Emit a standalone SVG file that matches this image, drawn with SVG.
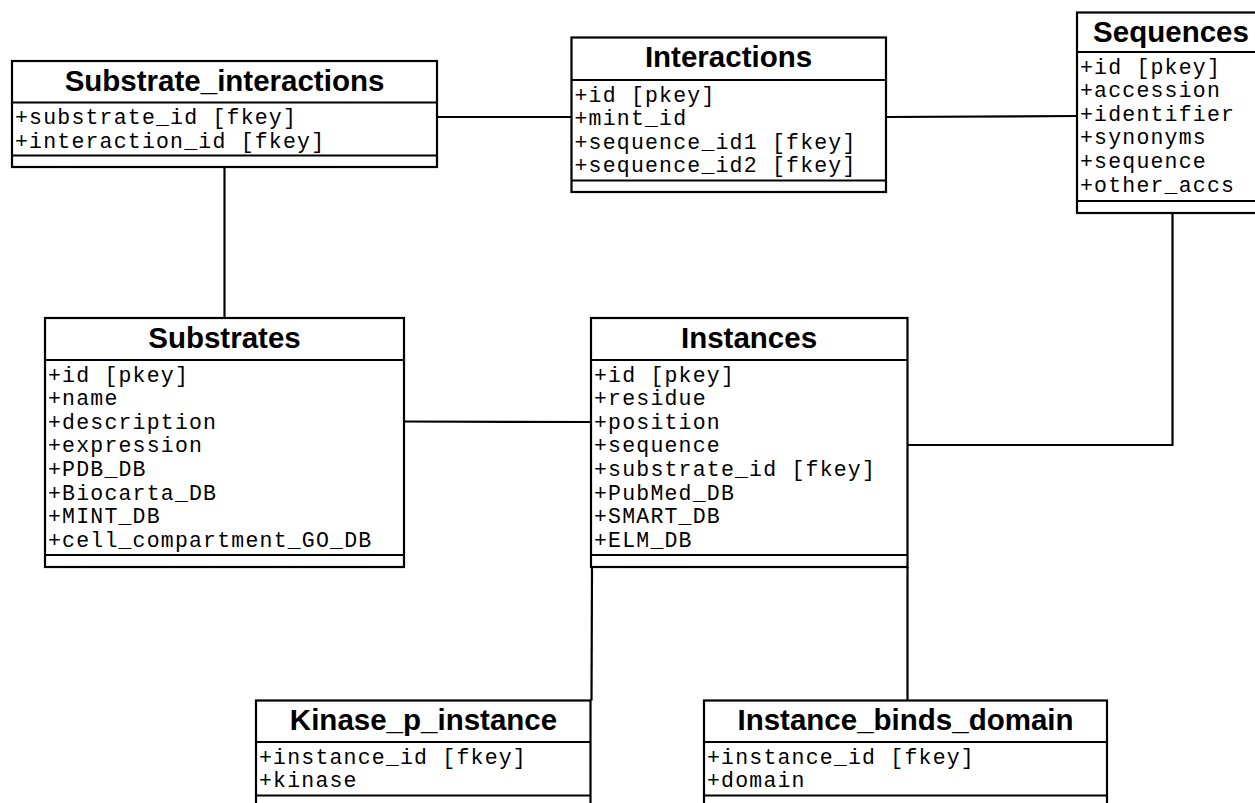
<svg xmlns="http://www.w3.org/2000/svg" width="1255" height="803" viewBox="0 0 1255 803">
<style>
.box{fill:#fff;stroke:#000;stroke-width:2.2}
.sep{stroke:#000;stroke-width:2.2}
.conn{fill:none;stroke:#000;stroke-width:2.2}
.title{font-family:"Liberation Sans",Arial,Helvetica,sans-serif;font-weight:bold;font-size:29.5px;text-anchor:middle;fill:#000}
.attr{font-family:"Liberation Mono","Courier New",monospace;font-size:21.5px;letter-spacing:1.2px;fill:#000}
</style>
<rect width="1255" height="803" fill="#fff"/>
<g id="connectors">
<line class="conn" x1="437" y1="117" x2="571.5" y2="117"/>
<line class="conn" x1="886" y1="117" x2="1077" y2="116"/>
<line class="conn" x1="224.5" y1="167" x2="224.5" y2="318"/>
<line class="conn" x1="404" y1="421.5" x2="591" y2="422"/>
<polyline class="conn" points="907.5,445 1172.5,445 1172.5,213"/>
<line class="conn" x1="592" y1="567" x2="591.5" y2="700.5"/>
<line class="conn" x1="907.5" y1="567" x2="907.5" y2="700.5"/>
</g>
<g id="substrate_interactions">
<rect class="box" x="12" y="61" width="425" height="106"/>
<line class="sep" x1="12" y1="102.5" x2="437" y2="102.5"/>
<line class="sep" x1="12" y1="155.5" x2="437" y2="155.5"/>
<text class="title" x="224.5" y="90.5">Substrate_interactions</text>
<text class="attr" x="15" y="124">+substrate_id [fkey]</text>
<text class="attr" x="15" y="147.6">+interaction_id [fkey]</text>
</g>
<g id="interactions">
<rect class="box" x="571.5" y="37.5" width="314.5" height="154.5"/>
<line class="sep" x1="571.5" y1="80" x2="886" y2="80"/>
<line class="sep" x1="571.5" y1="180.5" x2="886" y2="180.5"/>
<text class="title" x="728.5" y="67">Interactions</text>
<text class="attr" x="574.5" y="101.5">+id [pkey]</text>
<text class="attr" x="574.5" y="125.1">+mint_id</text>
<text class="attr" x="574.5" y="148.7">+sequence_id1 [fkey]</text>
<text class="attr" x="574.5" y="172.3">+sequence_id2 [fkey]</text>
</g>
<g id="sequences">
<rect class="box" x="1077" y="12.5" width="188" height="200.5"/>
<line class="sep" x1="1077" y1="52" x2="1265" y2="52"/>
<line class="sep" x1="1077" y1="201" x2="1265" y2="201"/>
<text class="title" x="1171" y="42">Sequences</text>
<text class="attr" x="1080" y="73.5">+id [pkey]</text>
<text class="attr" x="1080" y="97.1">+accession</text>
<text class="attr" x="1080" y="120.7">+identifier</text>
<text class="attr" x="1080" y="144.3">+synonyms</text>
<text class="attr" x="1080" y="167.9">+sequence</text>
<text class="attr" x="1080" y="191.5">+other_accs</text>
</g>
<g id="substrates">
<rect class="box" x="45" y="318" width="359" height="249"/>
<line class="sep" x1="45" y1="360" x2="404" y2="360"/>
<line class="sep" x1="45" y1="555" x2="404" y2="555"/>
<text class="title" x="224.5" y="347.5">Substrates</text>
<text class="attr" x="48" y="381.5">+id [pkey]</text>
<text class="attr" x="48" y="405.1">+name</text>
<text class="attr" x="48" y="428.7">+description</text>
<text class="attr" x="48" y="452.3">+expression</text>
<text class="attr" x="48" y="475.9">+PDB_DB</text>
<text class="attr" x="48" y="499.5">+Biocarta_DB</text>
<text class="attr" x="48" y="523.1">+MINT_DB</text>
<text class="attr" x="48" y="546.7">+cell_compartment_GO_DB</text>
</g>
<g id="instances">
<rect class="box" x="591" y="318" width="316.5" height="249"/>
<line class="sep" x1="591" y1="360" x2="907.5" y2="360"/>
<line class="sep" x1="591" y1="555" x2="907.5" y2="555"/>
<text class="title" x="749" y="347.5">Instances</text>
<text class="attr" x="594" y="381.5">+id [pkey]</text>
<text class="attr" x="594" y="405.1">+residue</text>
<text class="attr" x="594" y="428.7">+position</text>
<text class="attr" x="594" y="452.3">+sequence</text>
<text class="attr" x="594" y="475.9">+substrate_id [fkey]</text>
<text class="attr" x="594" y="499.5">+PubMed_DB</text>
<text class="attr" x="594" y="523.1">+SMART_DB</text>
<text class="attr" x="594" y="546.7">+ELM_DB</text>
</g>
<g id="kinase_p_instance">
<rect class="box" x="256" y="700.5" width="334.5" height="108"/>
<line class="sep" x1="256" y1="742" x2="590.5" y2="742"/>
<line class="sep" x1="256" y1="795.5" x2="590.5" y2="795.5"/>
<text class="title" x="423.5" y="730">Kinase_p_instance</text>
<text class="attr" x="259" y="763.5">+instance_id [fkey]</text>
<text class="attr" x="259" y="787.1">+kinase</text>
</g>
<g id="instance_binds_domain">
<rect class="box" x="704" y="700.5" width="403" height="108"/>
<line class="sep" x1="704" y1="742" x2="1107" y2="742"/>
<line class="sep" x1="704" y1="795.5" x2="1107" y2="795.5"/>
<text class="title" x="905.5" y="730">Instance_binds_domain</text>
<text class="attr" x="707" y="763.5">+instance_id [fkey]</text>
<text class="attr" x="707" y="787.1">+domain</text>
</g>
</svg>
